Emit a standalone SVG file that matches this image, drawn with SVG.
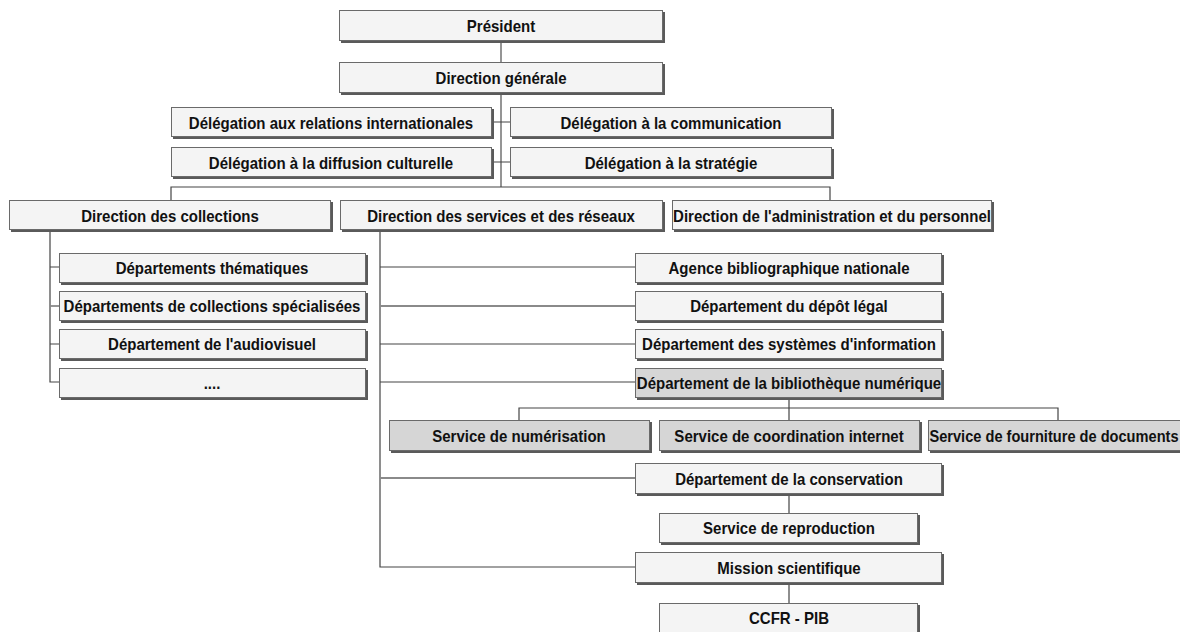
<svg xmlns="http://www.w3.org/2000/svg" width="1180" height="632" viewBox="0 0 1180 632">
<defs>
<style>
.sh{fill:#5a5a5a}
.bx{fill:#f4f4f4;stroke:#6a6a6a;stroke-width:1}
.gr{fill:#d6d6d6;stroke:#6a6a6a;stroke-width:1}
.t{font-family:"Liberation Sans",Arial,sans-serif;font-weight:bold;font-size:16.5px;fill:#111;text-anchor:middle;transform-box:fill-box;transform-origin:center;transform:translateY(1px) scaleX(0.91)}
.tn{transform:translateY(1px) scaleX(0.885)}
.c{fill:none;stroke:#444;stroke-width:1.2}
.cl{fill:none;stroke:#8a8a8a;stroke-width:1.8}
</style>
</defs>
<rect width="1180" height="632" fill="#ffffff"/>
<g id="connectors">
<path class="cl" d="M501,42V187"/>
<path class="c" d="M492,122H510M492,162H510"/>
<path class="c" d="M171,200V187H830V200"/>
<path class="c" d="M50,230V382H59M50,267H59M50,344H59"/>
<path class="cl" d="M50,306H59"/>
<path class="c" d="M380,230V567H635M380,267H635M380,344H635M380,382H635"/>
<path class="cl" d="M380,306H635M380,478H635"/>
<path class="c" d="M789,398V420M519,420V408H1058V420"/>
<path class="c" d="M789,494V513M789,583V603"/>
</g>
<g id="president"><rect class="sh" x="341" y="12" width="324" height="31"/><rect class="bx" x="339.5" y="10.5" width="323" height="30"/><text class="t" x="501" y="31">Président</text></g>
<g id="direction-generale"><rect class="sh" x="341" y="64" width="324" height="31"/><rect class="bx" x="339.5" y="62.5" width="323" height="30"/><text class="t" x="501" y="83">Direction générale</text></g>
<g id="deleg-relations"><rect class="sh" x="173" y="109" width="321" height="30"/><rect class="bx" x="171.5" y="107.5" width="320" height="29"/><text class="t" x="331" y="128">Délégation aux relations internationales</text></g>
<g id="deleg-communication"><rect class="sh" x="512" y="109" width="322" height="30"/><rect class="bx" x="510.5" y="107.5" width="321" height="29"/><text class="t" x="671" y="128">Délégation à la communication</text></g>
<g id="deleg-diffusion"><rect class="sh" x="173" y="149" width="321" height="30"/><rect class="bx" x="171.5" y="147.5" width="320" height="29"/><text class="t" x="331" y="168">Délégation à la diffusion culturelle</text></g>
<g id="deleg-strategie"><rect class="sh" x="512" y="149" width="322" height="30"/><rect class="bx" x="510.5" y="147.5" width="321" height="29"/><text class="t" x="671" y="168">Délégation à la stratégie</text></g>
<g id="dir-collections"><rect class="sh" x="11" y="202" width="322" height="30"/><rect class="bx" x="9.5" y="200.5" width="321" height="29"/><text class="t" x="170" y="221">Direction des collections</text></g>
<g id="dir-services"><rect class="sh" x="342" y="202" width="323" height="30"/><rect class="bx" x="340.5" y="200.5" width="322" height="29"/><text class="t" x="501" y="221">Direction des services et des réseaux</text></g>
<g id="dir-administration"><rect class="sh" x="674" y="202" width="320" height="30"/><rect class="bx" x="672.5" y="200.5" width="319" height="29"/><text class="t" x="832" y="221">Direction de l'administration et du personnel</text></g>
<g id="dep-thematiques"><rect class="sh" x="61" y="255" width="307" height="30"/><rect class="bx" x="59.5" y="253.5" width="306" height="29"/><text class="t" x="212" y="273">Départements thématiques</text></g>
<g id="dep-specialisees"><rect class="sh" x="61" y="293" width="307" height="30"/><rect class="bx" x="59.5" y="291.5" width="306" height="29"/><text class="t" x="212" y="311">Départements de collections spécialisées</text></g>
<g id="dep-audiovisuel"><rect class="sh" x="61" y="331" width="307" height="30"/><rect class="bx" x="59.5" y="329.5" width="306" height="29"/><text class="t" x="212" y="349">Département de l'audiovisuel</text></g>
<g id="dep-etc"><rect class="sh" x="61" y="370" width="307" height="30"/><rect class="bx" x="59.5" y="368.5" width="306" height="29"/><text class="t" x="212" y="388">....</text></g>
<g id="agence"><rect class="sh" x="637" y="255" width="307" height="30"/><rect class="bx" x="635.5" y="253.5" width="306" height="29"/><text class="t" x="789" y="273">Agence bibliographique nationale</text></g>
<g id="depot-legal"><rect class="sh" x="637" y="293" width="307" height="30"/><rect class="bx" x="635.5" y="291.5" width="306" height="29"/><text class="t" x="789" y="311">Département du dépôt légal</text></g>
<g id="systemes"><rect class="sh" x="637" y="331" width="307" height="30"/><rect class="bx" x="635.5" y="329.5" width="306" height="29"/><text class="t" x="789" y="349">Département des systèmes d'information</text></g>
<g id="bib-numerique"><rect class="sh" x="637" y="370" width="307" height="30"/><rect class="gr" x="635.5" y="368.5" width="306" height="29"/><text class="t" x="789" y="388">Département de la bibliothèque numérique</text></g>
<g id="numerisation"><rect class="sh" x="391" y="422" width="261" height="31"/><rect class="gr" x="389.5" y="420.5" width="260" height="30"/><text class="t" x="519" y="441">Service de numérisation</text></g>
<g id="coordination"><rect class="sh" x="661" y="422" width="261" height="31"/><rect class="gr" x="659.5" y="420.5" width="260" height="30"/><text class="t" x="789" y="441">Service de coordination internet</text></g>
<g id="fourniture"><rect class="sh" x="930" y="422" width="262" height="31"/><rect class="gr" x="928.5" y="420.5" width="261" height="30"/><text class="t tn" x="1054" y="441">Service de fourniture de documents</text></g>
<g id="conservation"><rect class="sh" x="637" y="465" width="307" height="31"/><rect class="bx" x="635.5" y="463.5" width="306" height="30"/><text class="t" x="789" y="484">Département de la conservation</text></g>
<g id="reproduction"><rect class="sh" x="661" y="515" width="259" height="30"/><rect class="bx" x="659.5" y="513.5" width="258" height="29"/><text class="t" x="789" y="533">Service de reproduction</text></g>
<g id="mission"><rect class="sh" x="637" y="554" width="307" height="31"/><rect class="bx" x="635.5" y="552.5" width="306" height="30"/><text class="t" x="789" y="573">Mission scientifique</text></g>
<g id="ccfr"><rect class="sh" x="661" y="605" width="259" height="31"/><rect class="bx" x="659.5" y="603.5" width="258" height="30"/><text class="t" x="789" y="623">CCFR - PIB</text></g>
</svg>
